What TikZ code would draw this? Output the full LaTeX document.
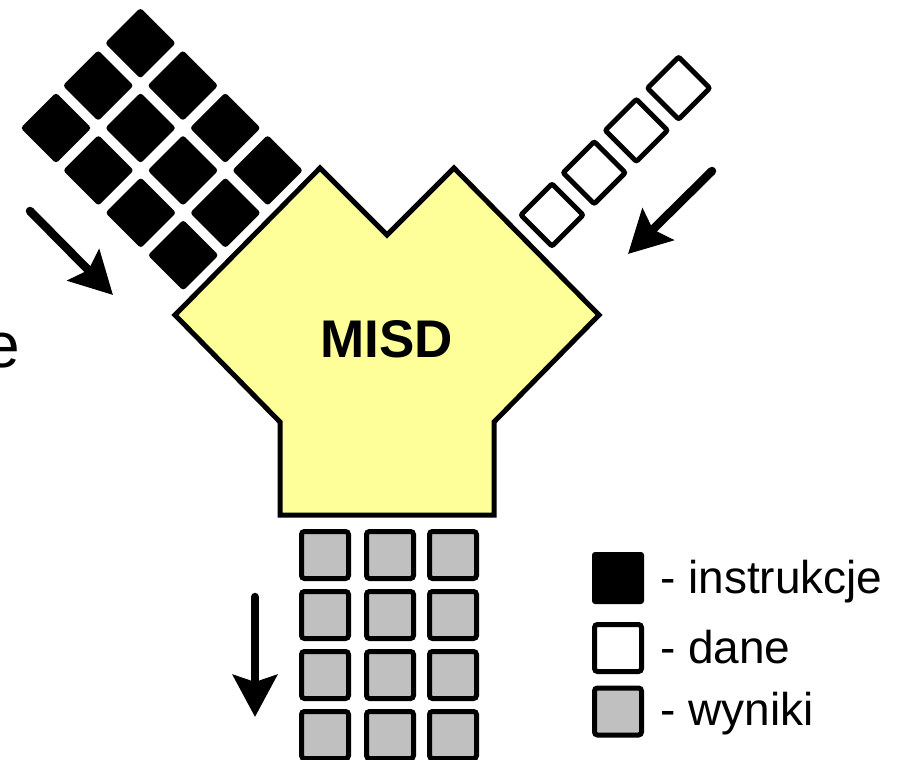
\documentclass[tikz,border=0pt]{standalone}
\usepackage{fontspec}
\setmainfont{Liberation Sans}
\usetikzlibrary{arrows.meta}
\definecolor{ink}{HTML}{000000}
\definecolor{cpuyellow}{HTML}{FFFF99}
\definecolor{resgray}{HTML}{C0C0C0}
\tikzset{
  >=Stealth,
  instr/.style={fill=ink, rounded corners=3pt, minimum size=50pt, inner sep=0pt, outer sep=0pt, rotate=45},
  datum/.style={draw=ink, fill=white, line width=5pt, rounded corners=2pt, minimum size=44pt, inner sep=0pt, rotate=45},
  result/.style={draw=ink, fill=resgray, line width=5pt, rounded corners=3pt, minimum size=47pt, inner sep=0pt},
  cpu/.style={draw=ink, fill=cpuyellow, line width=5pt},
  flow/.style={-{Stealth[length=42pt, width=44pt, inset=7pt]}, line width=8.5pt, line cap=round, draw=ink},
  legtext/.style={font=\fontsize{46}{50}\selectfont, text=ink, inner sep=0pt, anchor=base west},
}
\def\misdResCols{325,390,453}
\def\misdResRows{555,615,675,735}

\begin{document}
\begin{tikzpicture}[x=1pt, y=-1pt]
  \useasboundingbox (0,0) rectangle (906,760);
  % cut-off label on the left edge
  \node[font=\fontsize{64}{70}\selectfont, anchor=base east, inner sep=0pt] (cutlabel) at (20,367) {e};
  % processor
  \draw[cpu] (175,315) -- (320,168) -- (387,235) -- (454,168) -- (599,315)
    -- (494,422) -- (494,515) -- (280,515) -- (280,422) -- cycle;
  \node[font=\bfseries\fontsize{53}{58}\selectfont, text=ink] (misd) at (387,339) {MISD};
  % instruction streams
  \foreach \i in {0,...,3} {
    \foreach \j in {0,1,2} {
      \node[instr] (instr-\i-\j) at ({56+42.4*\i+42.2*\j},{128+42.4*\i-42.4*\j}) {};
    }
  }
  % data stream
  \foreach \k in {0,...,3} {
    \node[datum] (dat-\k) at ({552+42.2*\k},{215-42.3*\k}) {};
  }
  % results
  \foreach \x [count=\c] in \misdResCols {
    \foreach \y [count=\r] in \misdResRows {
      \node[result] (res-\c-\r) at (\x,\y) {};
    }
  }
  % flow arrows
  \coordinate (instrFrom) at (30,211);
  \coordinate (instrTo) at (113,295);
  \coordinate (datFrom) at (712,171);
  \coordinate (datTo) at (628,254);
  \coordinate (resFrom) at (255,597);
  \coordinate (resTo) at (255,717);
  \draw[flow] (instrFrom) -- (instrTo);
  \draw[flow] (datFrom) -- (datTo);
  \draw[flow] (resFrom) -- (resTo);
  % legend
  \node[instr, rotate=-45, minimum size=52pt] (key-instr) at (618,578) {};
  \node[datum, rotate=-45, minimum size=47pt, rounded corners=3pt] (key-dat) at (618,648) {};
  \node[result] (key-res) at (618,711.5) {};
  \node[legtext] (txt-instr) at (660,593) {- instrukcje};
  \node[legtext] (txt-dat) at (660,663) {- dane};
  \node[legtext] (txt-res) at (660,725) {- wyniki};
\end{tikzpicture}
\end{document}
